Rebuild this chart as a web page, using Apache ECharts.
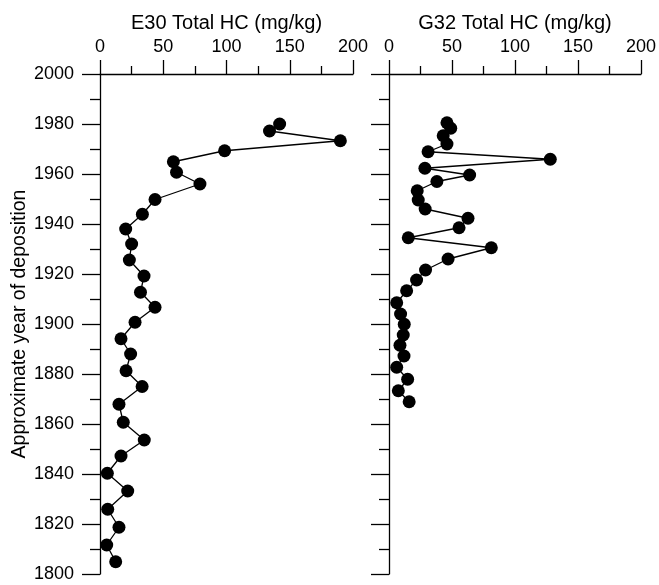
<!DOCTYPE html>
<html><head><meta charset="utf-8">
<script src="https://cdn.jsdelivr.net/npm/echarts@6/dist/echarts.min.js"></script>
<style>html,body{margin:0;padding:0;background:#fff}#c{width:659px;height:585px}</style>
</head><body><div id="c"></div>
<script>
const e30Years = [1980,1977.2,1973.3,1969.3,1964.9,1960.7,1956,1949.8,1943.9,1938,1932,1925.6,1919.2,1912.7,1906.7,1900.7,1894.1,1888,1881.3,1875,1867.9,1860.7,1853.6,1847.2,1840.3,1833.2,1825.9,1818.7,1811.6,1804.9];
const e30Values = [142,134,190,98.5,58,60.5,79,43.5,33.5,20.3,25,23.2,34.8,32,43.5,27.7,16.6,24.2,20.6,33.3,15,18.4,35,16.6,5.8,21.9,6.1,15,5.3,12.4];
const g32Years = [1980.5,1978.3,1975.3,1972,1968.9,1965.9,1962.3,1959.6,1957,1953.3,1949.6,1946,1942.3,1938.5,1934.5,1930.5,1926,1921.6,1917.6,1913.3,1908.5,1904,1899.9,1895.6,1891.5,1887.2,1882.7,1877.9,1873.3,1868.9];
const g32Values = [46,49,43,46,31,128,28.5,64,38,22.4,23.2,28.7,62.7,55.6,15.3,81.2,46.9,29,21.9,14,6.1,9.2,12.1,11.3,8.7,11.9,6.1,14.8,7.4,16];
const xTitles = ['E30 Total HC (mg/kg)','G32 Total HC (mg/kg)'];
const yTitle = 'Approximate year of deposition';

const font = 'Liberation Sans, Arial, sans-serif';
const chart = echarts.init(document.getElementById('c'));
function xAx(i){
  return {gridIndex:i,type:'value',position:'top',min:0,max:200,interval:50,
    name:xTitles[i],nameLocation:'middle',nameGap:38,
    nameTextStyle:{fontFamily:font,fontSize:20,color:'#000'},
    axisLine:{show:true,lineStyle:{color:'#000',width:1.3}},
    axisTick:{show:true,inside:false,length:14,lineStyle:{color:'#000',width:1.3}},
    minorTick:{show:true,splitNumber:2,length:8,lineStyle:{color:'#000',width:1.3}},
    axisLabel:{fontFamily:font,fontSize:18,color:'#000',margin:18},
    splitLine:{show:false}};
}
function yAx(i){
  return {gridIndex:i,type:'value',min:1800,max:2000,interval:20,
    name:i===0?yTitle:'',nameLocation:'middle',nameGap:62,nameRotate:90,
    nameTextStyle:{fontFamily:font,fontSize:19.5,color:'#000'},
    axisLine:{show:true,onZero:false,lineStyle:{color:'#000',width:1.3}},
    axisTick:{show:true,inside:false,length:18,lineStyle:{color:'#000',width:1.3}},
    minorTick:{show:true,splitNumber:2,length:10,lineStyle:{color:'#000',width:1.3}},
    axisLabel:{show:i===0,fontFamily:font,fontSize:18,color:'#000',margin:26,formatter:v=>String(v)},
    splitLine:{show:false}};
}
function ser(i,vals,yrs){
  return {type:'line',xAxisIndex:i,yAxisIndex:i,data:vals.map((v,k)=>[v,yrs[k]]),
    symbol:'circle',symbolSize:13,clip:false,animation:false,
    itemStyle:{color:'#000'},lineStyle:{color:'#000',width:1.3}};
}
chart.setOption({
  animation:false,
  grid:[{left:100,top:74,width:253,height:500},{left:389,top:74,width:253,height:500}],
  xAxis:[xAx(0),xAx(1)],
  yAxis:[yAx(0),yAx(1)],
  series:[ser(0,e30Values,e30Years),ser(1,g32Values,g32Years)]
});
</script></body></html>
